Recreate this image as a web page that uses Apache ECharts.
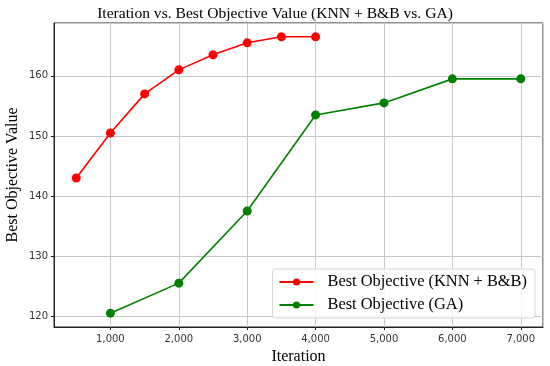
<!DOCTYPE html>
<html><head><meta charset="utf-8">
<script src="https://cdn.jsdelivr.net/npm/echarts@6/dist/echarts.min.js"></script>
<style>html,body{margin:0;padding:0;background:#fff}#c{width:550px;height:366px}</style>
</head><body><div id="c"></div>
<script>
var knnX = [500, 1000, 1500, 2000, 2500, 3000, 3500, 4000];
var knnY = [143, 150.5, 157, 161, 163.5, 165.5, 166.5, 166.5];
var gaX = [1000, 2000, 3000, 4000, 5000, 6000, 7000];
var gaY = [120.5, 125.5, 137.5, 153.5, 155.5, 159.5, 159.5];
var titleText = 'Iteration vs. Best Objective Value (KNN + B&B vs. GA)';
var xName = 'Iteration';
var yName = 'Best Objective Value';
var knnName = 'Best Objective (KNN + B&B)';
var gaName = 'Best Objective (GA)';

function pairs(xs, ys){ return xs.map(function(x,i){ return [x, ys[i]]; }); }

var chart = echarts.init(document.getElementById('c'), null, {renderer:'canvas'});
var serif = '"Liberation Serif","Times New Roman",serif';
var sans = '"DejaVu Sans",sans-serif';
chart.setOption({
  animation: false,
  backgroundColor: '#fff',
  title: {
    text: titleText, left: 'center', top: 1,
    textStyle: {fontFamily: serif, fontWeight: 'normal', fontSize: 15.6, color: '#000'}
  },
  grid: {left: 54, right: 7, top: 23, bottom: 39, show: true, borderColor: '#222', borderWidth: 1,
    backgroundColor: 'transparent', outerBoundsMode: 'none', containLabel: false},
  xAxis: {
    type: 'value', min: 175, max: 7325, splitNumber: 7,
    name: xName, nameLocation: 'middle', nameGap: 22,
    nameTextStyle: {fontFamily: serif, fontSize: 16, color: '#000'},
    axisLine: {show: true, onZero: false, lineStyle: {color: '#222', width: 1}},
    axisTick: {show: true, length: 3, lineStyle: {color: '#222'}},
    axisLabel: {showMinLabel: false, showMaxLabel: false, fontFamily: sans, fontSize: 10, color: '#333', margin: 7,
      formatter: function(v){ return v.toLocaleString('en-US'); }},
    splitLine: {show: true, lineStyle: {color: '#c8c8c8', width: 1}}
  },
  yAxis: {
    type: 'value', min: 118.2, max: 168.8, splitNumber: 5,
    name: yName, nameLocation: 'middle', nameGap: 33, nameRotate: 90, nameMoveOverlap: false,
    nameTextStyle: {fontFamily: serif, fontSize: 16, color: '#000'},
    axisLine: {show: true, onZero: false, lineStyle: {color: '#222', width: 1}},
    axisTick: {show: true, length: 3, lineStyle: {color: '#222'}},
    axisLabel: {showMinLabel: false, showMaxLabel: false, fontFamily: sans, fontSize: 10, color: '#333', margin: 6},
    splitLine: {show: true, lineStyle: {color: '#c8c8c8', width: 1}}
  },
  legend: {
    orient: 'vertical', right: 15, bottom: 48,
    itemWidth: 34, itemHeight: 9, itemGap: 7,
    backgroundColor: 'rgba(255,255,255,0.85)', borderColor: '#d5d5d5', borderWidth: 1, borderRadius: 3,
    padding: [5, 8, 5, 6],
    textStyle: {fontFamily: serif, fontSize: 16.4, color: '#000', padding: [0,0,0,9]},
    data: [knnName, gaName]
  },
  series: [
    {name: knnName, type: 'line', data: pairs(knnX, knnY), symbol: 'circle', symbolSize: 9,
     itemStyle: {color: '#ff0000'}, lineStyle: {color: '#ff0000', width: 1.6}, z: 3},
    {name: gaName, type: 'line', data: pairs(gaX, gaY), symbol: 'circle', symbolSize: 9,
     itemStyle: {color: '#008000'}, lineStyle: {color: '#008000', width: 1.6}, z: 3}
  ]
});
</script></body></html>
